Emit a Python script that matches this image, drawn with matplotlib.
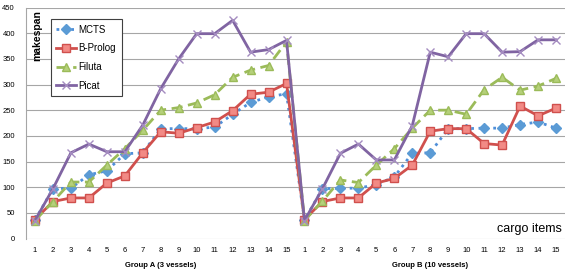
import matplotlib
matplotlib.use('Agg')
import matplotlib.pyplot as plt
import numpy as np

# ================= 数据 =================
cargo_labels = [str(i) for i in range(1, 16)] * 2
group_labels = ['Group A (3 vessels)', 'Group B (10 vessels)']

mcts = [36, 97, 98, 124, 132, 165, 167, 214, 214, 214, 217, 242, 265, 276, 282,
        36, 97, 98, 98, 105, 120, 166, 167, 214, 214, 215, 215, 222, 227, 215]
bprolog = [37, 72, 79, 79, 108, 122, 167, 208, 205, 216, 227, 249, 281, 285, 302,
           37, 72, 79, 79, 108, 117, 143, 209, 214, 214, 185, 182, 258, 239, 254]
filuta = [35, 72, 110, 110, 143, 175, 211, 250, 255, 264, 280, 314, 328, 337, 383,
          35, 73, 114, 109, 143, 175, 215, 250, 250, 242, 290, 314, 289, 297, 312]
picat = [35, 97, 167, 184, 169, 169, 221, 292, 350, 399, 399, 425, 363, 368, 386,
         35, 97, 166, 184, 153, 153, 220, 363, 354, 399, 399, 363, 364, 387, 387]

if __name__ == '__main__':
    plt.rcParams['font.family'] = ['Liberation Sans', 'DejaVu Sans']

    fig = plt.figure(figsize=(5.81, 2.71), dpi=100)
    ax = fig.add_axes([26 / 581, 1 - 238.5 / 271, 539 / 581, 231 / 271])

    x = np.arange(len(cargo_labels))

    ax.grid(axis='y', color='#a6a6a6', linewidth=0.8, zorder=0)
    ax.plot(x, mcts, linestyle=':', color='#4F8FD9', linewidth=2, marker='D',
            markersize=5, markerfacecolor='#5B9BD5', markeredgecolor='#5B9BD5',
            label='MCTS', zorder=3)
    ax.plot(x, bprolog, linestyle='-', color='#D0504D', linewidth=2, marker='s',
            markersize=6, markerfacecolor='#F28A85', markeredgecolor='#D0504D',
            label='B-Prolog', zorder=3)
    ax.plot(x, filuta, linestyle='--', dashes=(4, 2), color='#9BBB59', linewidth=2,
            marker='^', markersize=6, markerfacecolor='#B5D07A',
            markeredgecolor='#9BBB59', label='Filuta', zorder=3)
    ax.plot(x, picat, linestyle='-', color='#8064A2', linewidth=2, marker='x',
            markersize=6, markeredgecolor='#A48CC0', markeredgewidth=1,
            label='Picat', zorder=4)

    ax.set_xlim(-0.5, len(cargo_labels) - 0.5)
    ax.set_ylim(0, 450)
    ax.set_yticks(np.arange(0, 451, 50))
    ax.set_xticks(x)
    ax.set_xticklabels(cargo_labels, fontsize=5.5)
    ax.tick_params(axis='y', labelsize=5.5, length=0, pad=8)
    ax.tick_params(axis='x', length=0, pad=6)

    for side in ['top', 'right', 'bottom']:
        ax.spines[side].set_visible(False)
    ax.spines['left'].set_color('#a6a6a6')

    ax.text(0.02, 0.99, 'makespan', transform=ax.transAxes, rotation=90,
            fontsize=7.5, fontweight='bold', ha='center', va='top')
    ax.text(0.995, 0.015, 'cargo items', transform=ax.transAxes,
            fontsize=9, ha='right', va='bottom')

    for i, g in enumerate(group_labels):
        ax.text(7 + 15 * i, -0.1, g, transform=ax.get_xaxis_transform(),
                fontsize=5.5, fontweight='bold', ha='center', va='top')

    leg = ax.legend(loc='upper left', bbox_to_anchor=(25 / 539, 1 - 11.8 / 231),
                    fontsize=7, frameon=True, fancybox=False, framealpha=1,
                    edgecolor='#404040', handlelength=2, handletextpad=0.3,
                    labelspacing=0.9, borderpad=0.55, borderaxespad=0)
    leg.get_frame().set_linewidth(0.8)

    plt.savefig('out.png', dpi=100)
